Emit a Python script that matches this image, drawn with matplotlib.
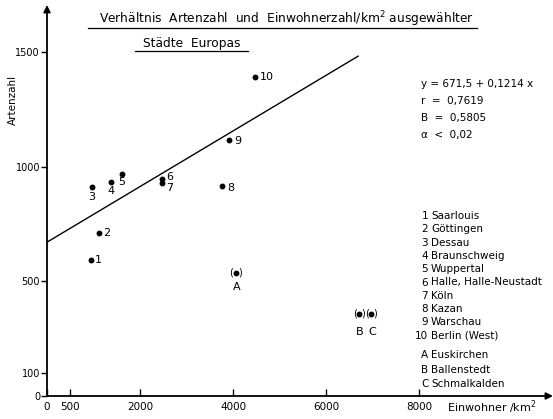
import matplotlib
matplotlib.use("Agg")
import matplotlib.pyplot as plt
import numpy as np

# cities 1-10 and A-C (Einwohner/km², Artenzahl)
labels = ["1", "2", "3", "4", "5", "6", "7", "8", "9", "10"]
einwohner = [946, 1118, 968, 1376, 1613, 2473, 2473, 3763, 3914, 4473]
artenzahl = [594, 712, 913, 934, 969, 948, 930, 917, 1118, 1393]

extra_labels = ["A", "B", "C"]
extra_einwohner = [4065, 6710, 6968]
extra_artenzahl = [537, 358, 358]

staedte = ["Saarlouis", "Göttingen", "Dessau", "Braunschweig", "Wuppertal",
           "Halle, Halle-Neustadt", "Köln", "Kazan", "Warschau", "Berlin (West)"]
extra_staedte = ["Euskirchen", "Ballenstedt", "Schmalkalden"]

intercept = 671.5
slope = 0.1214
fit_range = [0, 6690]
stats = ["y = 671,5 + 0,1214 x", "r  =  0,7619", "B  =  0,5805", "\u03b1  <  0,02"]

xticks = [0, 500, 2000, 4000, 6000, 8000]
yticks = [0, 100, 500, 1000, 1500]

W, H = 553, 419
plt.rcParams["font.family"] = "DejaVu Sans"

fig = plt.figure(figsize=(W / 100, H / 100), dpi=100)


def px(x, y):
    return x / W, 1 - y / H


ax = fig.add_axes([47 / W, 23 / H, (553 - 47) / W, (396 - 5) / H])
ax.set_xlim(0, 10880)
ax.set_ylim(0, 1707)
for s in ax.spines.values():
    s.set_visible(False)

# axes with arrows
ax.annotate("", xy=(0, 1), xytext=(0, 0), xycoords="axes fraction",
            arrowprops=dict(arrowstyle="-|>", lw=1.3, color="black",
                            mutation_scale=10, shrinkA=0, shrinkB=0))
ax.annotate("", xy=(1, 0), xytext=(0, 0), xycoords="axes fraction",
            arrowprops=dict(arrowstyle="-|>", lw=1.3, color="black",
                            mutation_scale=10, shrinkA=0, shrinkB=0))

ax.set_xticks(xticks)
ax.set_xticklabels([str(v) for v in xticks])
ax.set_yticks(yticks)
ax.set_yticklabels([str(v) for v in yticks])
ax.tick_params(axis="x", direction="in", length=5, width=1, labelsize=7.5, pad=4)
ax.tick_params(axis="y", direction="out", length=4, width=1, labelsize=7, pad=1)

# regression line
xf = np.array(fit_range)
ax.plot(xf, intercept + slope * xf, color="black", lw=1)

# points
ax.plot(einwohner, artenzahl, "o", color="black", ms=3.2)
ax.plot(extra_einwohner, extra_artenzahl, "o", color="black", ms=3.2)

# point labels (offset in pixels)
offsets = {"1": (4, 0, "left"), "2": (4, 0, "left"), "3": (0, -10, "center"),
           "4": (0, -9, "center"), "5": (0, -8, "center"), "6": (4, 2, "left"),
           "7": (4, -5, "left"), "8": (5, -2, "left"), "9": (5, -1, "left"),
           "10": (5, 0, "left")}
for lab, x, y in zip(labels, einwohner, artenzahl):
    dx, dy, ha = offsets[lab]
    ax.annotate(lab, (x, y), xytext=(dx, dy), textcoords="offset pixels",
                ha=ha, va="center", fontsize=8)

for lab, x, y in zip(extra_labels, extra_einwohner, extra_artenzahl):
    ax.annotate("(", (x, y), xytext=(-4.5, 0), textcoords="offset pixels",
                ha="center", va="center", fontsize=7)
    ax.annotate(")", (x, y), xytext=(4.5, 0), textcoords="offset pixels",
                ha="center", va="center", fontsize=7)
    dy = -14 if lab == "A" else -18
    ax.annotate(lab, (x, y), xytext=(1, dy), textcoords="offset pixels",
                ha="center", va="center", fontsize=8)

# axis labels
fig.text(*px(13, 100), "Artenzahl", rotation=90, ha="center", va="center",
         fontsize=7.5)
fig.text(*px(447, 407), "Einwohner /km$^2$", ha="left", va="center",
         fontsize=8)

# title with underlines
fig.text(*px(286, 19), "Verhältnis  Artenzahl  und  Einwohnerzahl/km$^2$ ausgewählter",
         ha="center", va="center", fontsize=8.8)
fig.text(*px(192, 43), "Städte  Europas", ha="center", va="center", fontsize=8.8)
fig.add_artist(plt.Line2D([px(88, 0)[0], px(477, 0)[0]], [px(0, 28)[1]] * 2,
                          color="black", lw=0.9))
fig.add_artist(plt.Line2D([px(135, 0)[0], px(248, 0)[0]], [px(0, 51)[1]] * 2,
                          color="black", lw=0.9))

# regression statistics
for i, s in enumerate(stats):
    fig.text(*px(421, 84 + 17 * i), s, ha="left", va="center", fontsize=7.5)

# legend list
rows = [216 + 13.3 * i for i in range(10)]
for lab, name, y in zip(labels, staedte, rows):
    fig.text(*px(428, y), lab, ha="right", va="center", fontsize=7.5)
    fig.text(*px(431, y), name, ha="left", va="center", fontsize=7.5)
for i, (lab, name) in enumerate(zip(extra_labels, extra_staedte)):
    y = 355 + 14.5 * i
    fig.text(*px(421, y), lab, ha="left", va="center", fontsize=7.5)
    fig.text(*px(431, y), name, ha="left", va="center", fontsize=7.5)

fig.savefig("out.png", dpi=100)
